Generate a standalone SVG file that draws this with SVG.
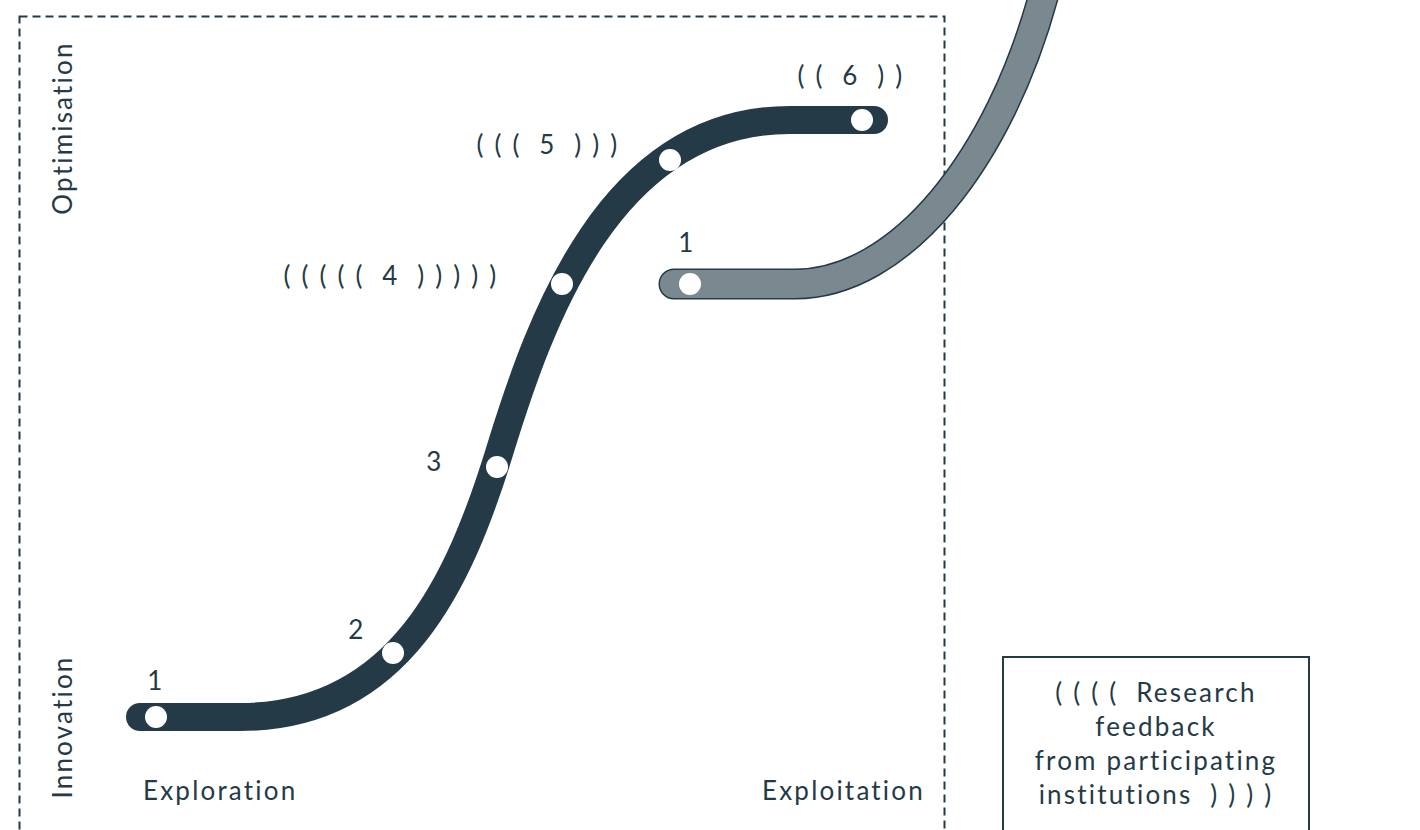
<svg xmlns="http://www.w3.org/2000/svg" width="1420" height="830" viewBox="0 0 1420 830">
<style>
  .t { font-family: Lato, "Noto Sans", sans-serif; font-size: 26px; fill: #243a47; letter-spacing: 2.2px; }
  .c { text-anchor: middle; }
  .dot { fill: #ffffff; }
</style>
<rect width="1420" height="830" fill="#ffffff"/>
<g id="frame">
  <rect x="19.5" y="16.5" width="925" height="840" fill="none" stroke="#243a47" stroke-width="2" stroke-dasharray="8,5"/>
</g>
<g id="axes">
  <text class="t c" transform="translate(72,128) rotate(-90)">Optimisation</text>
  <text class="t c" transform="translate(72,727) rotate(-90)">Innovation</text>
  <text class="t" x="143" y="800">Exploration</text>
  <text class="t" x="762" y="800">Exploitation</text>
</g>
<g id="connectors">
  <path id="curve-main" d="M140,717 H240 C400,717 460,580 500,450 C540,320 610,120 790,120 H874" fill="none" stroke="#243a47" stroke-width="28" stroke-linecap="round"/>
  <path d="M674,284 H795 C900,284 1000,160 1045,-10" fill="none" stroke="#243a47" stroke-width="31" stroke-linecap="round"/>
  <path id="curve-next" d="M674,284 H795 C900,284 1000,160 1045,-10" fill="none" stroke="#7a8990" stroke-width="28" stroke-linecap="round"/>
</g>
<g id="node-1"><circle class="dot" cx="156" cy="717" r="11"/><text class="t c" x="156" y="690">1</text></g>
<g id="node-2"><circle class="dot" cx="393" cy="653" r="11"/><text class="t c" x="357" y="639">2</text></g>
<g id="node-3"><circle class="dot" cx="497" cy="467" r="11"/><text class="t c" x="435" y="471">3</text></g>
<g id="node-4"><circle class="dot" cx="562" cy="284" r="11"/><text class="t c" x="391" y="285" xml:space="preserve">( ( ( ( (  4  ) ) ) ) )</text></g>
<g id="node-5"><circle class="dot" cx="670" cy="160" r="11"/><text class="t c" x="548" y="154" xml:space="preserve">( ( (  5  ) ) )</text></g>
<g id="node-6"><circle class="dot" cx="862" cy="120" r="11"/><text class="t c" x="851" y="85" xml:space="preserve">( (  6  ) )</text></g>
<g id="node-next-1"><circle class="dot" cx="690" cy="284" r="11"/><text class="t c" x="687" y="252">1</text></g>
<g id="feedback">
  <rect x="1003" y="657" width="306" height="200" fill="none" stroke="#243a47" stroke-width="2"/>
  <text class="t c" x="1156" y="702" xml:space="preserve">( ( ( (  Research</text>
  <text class="t c" x="1156" y="736">feedback</text>
  <text class="t c" x="1156" y="770">from participating</text>
  <text class="t c" x="1156" y="804" xml:space="preserve">institutions  ) ) ) )</text>
</g>
</svg>
